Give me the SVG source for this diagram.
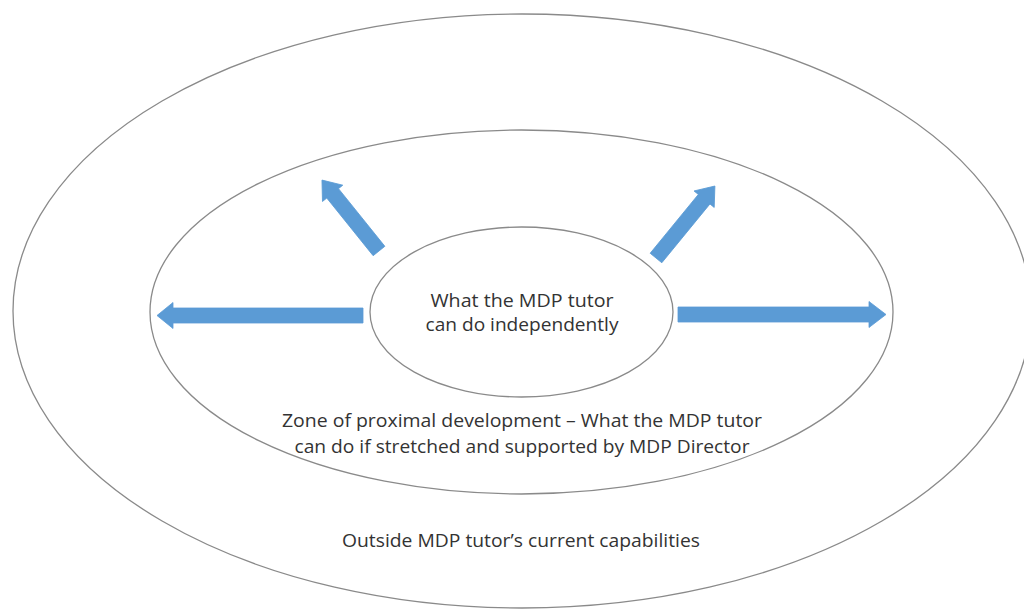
<svg xmlns="http://www.w3.org/2000/svg" width="1024" height="609" viewBox="0 0 1024 609">
<style>
.ring{fill:none;stroke:#8a8a8a;stroke-width:1.3}
.core{fill:#ffffff;stroke:#8a8a8a;stroke-width:1.3}
.lbl{font-family:"Open Sans","Liberation Sans",sans-serif;font-size:18.5px;fill:#333333;text-anchor:middle}
.arr{fill:#5b9bd5;stroke:#5b9bd5;stroke-width:0.8;stroke-linejoin:miter}
</style>
<rect width="1024" height="609" fill="#ffffff"/>
<g id="outside-capabilities">
<ellipse class="ring" cx="522" cy="311" rx="509" ry="297"/>
<text class="lbl" x="521" y="547" textLength="358" lengthAdjust="spacingAndGlyphs">Outside MDP tutor’s current capabilities</text>
</g>
<g id="zone-proximal-development">
<ellipse class="ring" cx="521.5" cy="312" rx="371.5" ry="182"/>
<text class="lbl" x="522" y="427" textLength="480" lengthAdjust="spacingAndGlyphs">Zone of proximal development – What the MDP tutor</text>
<text class="lbl" x="522" y="453" textLength="455" lengthAdjust="spacingAndGlyphs">can do if stretched and supported by MDP Director</text>
</g>
<g id="connectors">
<path class="arr" d="M363,308 H173 V302.5 L157,315.5 L173,328.5 V323 H363 Z"/>
<path class="arr" d="M678,307 H869 V301.5 L886,314.5 L869,327.5 V322 H678 Z"/>
<path class="arr" transform="translate(379,251) rotate(-128.8)" d="M0,-7.5 H74 V-13 L91,0 L74,13 V7.5 H0 Z"/>
<path class="arr" transform="translate(656,258) rotate(-50.7)" d="M0,-7.5 H76 V-13 L93,0 L76,13 V7.5 H0 Z"/>
</g>
<g id="independent">
<ellipse class="core" cx="521.5" cy="312" rx="151.5" ry="85"/>
<text class="lbl" x="522" y="307" textLength="183" lengthAdjust="spacingAndGlyphs">What the MDP tutor</text>
<text class="lbl" x="522" y="331" textLength="193" lengthAdjust="spacingAndGlyphs">can do independently</text>
</g>
</svg>
